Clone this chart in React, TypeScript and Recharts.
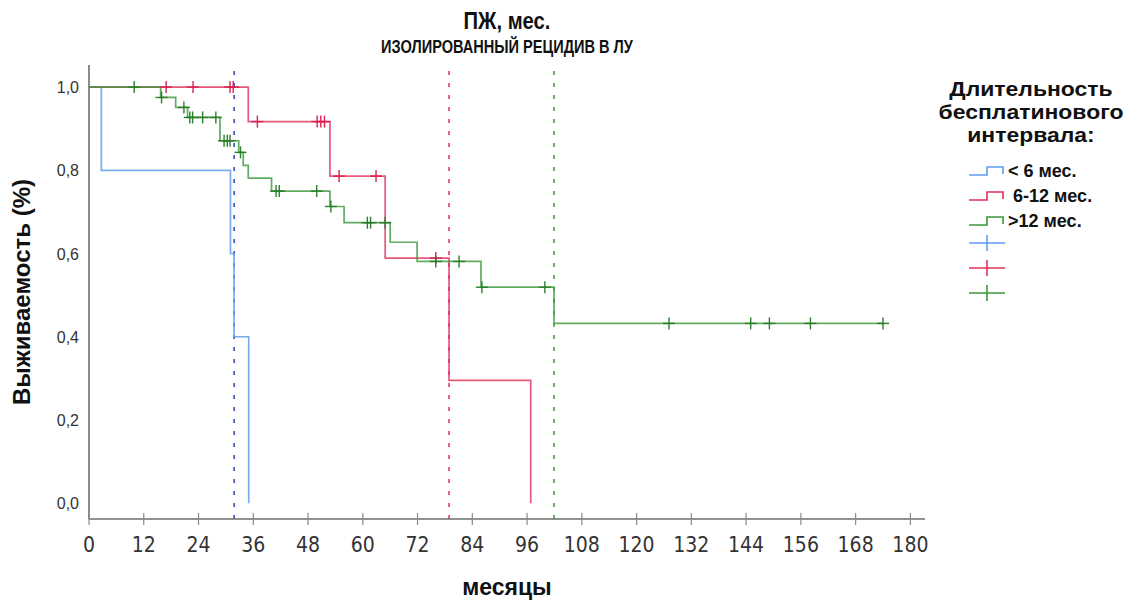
import React from 'react';
import { ComposedChart, Line, Scatter, XAxis, YAxis, ReferenceLine } from 'recharts';

// Axis ticks
const monthTicks = [0, 12, 24, 36, 48, 60, 72, 84, 96, 108, 120, 132, 144, 156, 168, 180];
const survivalTicks = [0, 0.2, 0.4, 0.6, 0.8, 1.0];

// Kaplan–Meier step curves (month, cumulative survival)
const lt6Steps = [
  { x: 0, y: 1 },
  { x: 2.7, y: 0.8 },
  { x: 31.0, y: 0.6 },
  { x: 31.8, y: 0.4 },
  { x: 35.0, y: 0 },
];

const m6to12Steps = [
  { x: 0, y: 1 },
  { x: 34.9, y: 0.917 },
  { x: 52.8, y: 0.786 },
  { x: 64.9, y: 0.589 },
  { x: 78.9, y: 0.295 },
  { x: 96.8, y: 0 },
];

const gt12Steps = [
  { x: 0, y: 1 },
  { x: 15.7, y: 0.975 },
  { x: 19.0, y: 0.951 },
  { x: 21.6, y: 0.927 },
  { x: 28.7, y: 0.871 },
  { x: 32.8, y: 0.843 },
  { x: 33.8, y: 0.812 },
  { x: 34.9, y: 0.781 },
  { x: 40.0, y: 0.75 },
  { x: 52.8, y: 0.713 },
  { x: 55.9, y: 0.674 },
  { x: 66.0, y: 0.627 },
  { x: 71.9, y: 0.581 },
  { x: 85.9, y: 0.519 },
  { x: 101.9, y: 0.432 },
  { x: 174.0, y: 0.432 },
];

// Censored observations (months)
const lt6Censored: number[] = [];
const m6to12Censored = [16.9, 22.8, 30.9, 31.6, 36.9, 50.0, 50.8, 51.6, 54.8, 62.9, 76.0];
const gt12Censored = [
  9.9, 15.9, 20.8, 22.1, 22.7, 24.9, 27.8, 29.6, 30.3, 30.9, 33.2, 41.0, 41.7, 49.9,
  53.0, 61.0, 61.7, 64.9, 76.0, 81.1, 86.1, 99.9, 127.1, 145.0, 149.1, 158.1, 174.0,
];

// Median survival (months)
const lt6Median = 31.8;
const m6to12Median = 78.9;
const gt12Median = 101.9;

const groupLabels = ['< 6 мес.', ' 6-12 мес.', '>12 мес.'];
const legendTitle = ['Длительность', 'бесплатинового', 'интервала:'];

const BLUE = '#5f9def';
const RED = '#e0305a';
const GREEN = '#3a973a';
const BLUE_DARK = '#2a46b0';
const RED_DARK = '#d9214f';
const GREEN_DARK = '#2a7f2a';

const SANS = "'Liberation Sans', Arial, sans-serif";
const NARROW = "'Liberation Sans Narrow', 'Arial Narrow', 'DejaVu Sans Condensed', sans-serif";

// Survival level of a step curve at time t
const survivalAt = (steps: { x: number; y: number }[], t: number) => {
  let v = steps[0].y;
  for (const s of steps) {
    if (s.x <= t) v = s.y;
  }
  return v;
};

const censorPoints = (steps: { x: number; y: number }[], times: number[]) =>
  times.map((t) => ({ x: t, y: survivalAt(steps, t) }));

const makePlus = (color: string) => (props: any) => {
  const { cx, cy } = props;
  if (cx == null || cy == null) return <g />;
  return (
    <g>
      <line x1={cx - 6} x2={cx + 6} y1={cy} y2={cy} stroke={color} strokeWidth={1.4} />
      <line x1={cx} x2={cx} y1={cy - 6} y2={cy + 6} stroke={color} strokeWidth={1.4} />
    </g>
  );
};

const MonthTick = (props: any) => {
  const { x, y, payload } = props;
  return (
    <g>
      <line x1={x} x2={x} y1={y - 6} y2={y + 6} stroke="#8a8a8a" strokeWidth={1.2} />
      <text x={x} y={y + 33} textAnchor="middle" fontFamily={NARROW} fontSize={21} fill="#333">
        {payload.value}
      </text>
    </g>
  );
};

const SurvivalTick = (props: any) => {
  const { x, y, payload } = props;
  return (
    <text x={x} y={y + 6} textAnchor="end" fontFamily={SANS} fontSize={16} fill="#333">
      {Number(payload.value).toFixed(1).replace('.', ',')}
    </text>
  );
};

const StepIcon = ({ cy, color }: { cy: number; color: string }) => (
  <polyline
    points={`969,${cy + 4} 987,${cy + 4} 987,${cy - 4} 1003,${cy - 4} 1003,${cy + 3}`}
    fill="none"
    stroke={color}
    strokeWidth={1.6}
  />
);

const PlusIcon = ({ cy, color }: { cy: number; color: string }) => (
  <g>
    <line x1={969} x2={1005} y1={cy} y2={cy} stroke={color} strokeWidth={1.6} />
    <line x1={987} x2={987} y1={cy - 8} y2={cy + 8} stroke={color} strokeWidth={1.6} />
  </g>
);

// Bold centred text with a horizontal scale factor
const ScaledText = ({ x, y, sx, size, children }: { x: number; y: number; sx: number; size: number; children: React.ReactNode }) => (
  <text
    transform={`translate(${x},${y}) scale(${sx},1)`}
    textAnchor="middle"
    fontFamily={SANS}
    fontWeight="bold"
    fontSize={size}
    fill="#111"
  >
    {children}
  </text>
);

export default function App() {
  const colors = [BLUE, RED, GREEN];
  return (
    <div style={{ position: 'absolute', left: 0, top: 0, width: 1148, height: 601, background: '#fff' }}>
      <ComposedChart
        width={1148}
        height={601}
        margin={{ top: 65, right: 223, bottom: 42, left: 29 }}
      >
        <XAxis
          type="number"
          dataKey="x"
          domain={[0, 183.2]}
          ticks={monthTicks}
          interval={0}
          allowDataOverflow
          tickLine={false}
          tickSize={0}
          tickMargin={0}
          height={40}
          axisLine={{ stroke: '#6e6e6e', strokeWidth: 1.6 }}
          tick={<MonthTick />}
        />
        <YAxis
          type="number"
          dataKey="y"
          domain={[-0.038, 1.053]}
          ticks={survivalTicks}
          interval={0}
          allowDataOverflow
          tickLine={false}
          tickSize={0}
          tickMargin={10}
          width={60}
          axisLine={{ stroke: '#6e6e6e', strokeWidth: 1.6 }}
          tick={<SurvivalTick />}
        />
        <ReferenceLine x={lt6Median} stroke={BLUE_DARK} strokeWidth={1.5} strokeDasharray="4 8" />
        <ReferenceLine x={m6to12Median} stroke={RED} strokeWidth={1.5} strokeDasharray="4 8" />
        <ReferenceLine x={gt12Median} stroke={GREEN} strokeWidth={1.5} strokeDasharray="4 8" />
        <Line
          data={lt6Steps}
          dataKey="y"
          type="stepAfter"
          stroke={BLUE}
          strokeWidth={1.7}
          strokeOpacity={0.85}
          dot={false}
          activeDot={false}
          isAnimationActive={false}
        />
        <Line
          data={m6to12Steps}
          dataKey="y"
          type="stepAfter"
          stroke={RED}
          strokeWidth={1.7}
          strokeOpacity={0.8}
          dot={false}
          activeDot={false}
          isAnimationActive={false}
        />
        <Line
          data={gt12Steps}
          dataKey="y"
          type="stepAfter"
          stroke={GREEN}
          strokeWidth={1.7}
          strokeOpacity={0.8}
          dot={false}
          activeDot={false}
          isAnimationActive={false}
        />
        <Scatter data={censorPoints(lt6Steps, lt6Censored)} shape={makePlus(BLUE_DARK)} isAnimationActive={false} />
        <Scatter data={censorPoints(m6to12Steps, m6to12Censored)} shape={makePlus(RED_DARK)} isAnimationActive={false} />
        <Scatter data={censorPoints(gt12Steps, gt12Censored)} shape={makePlus(GREEN_DARK)} isAnimationActive={false} />
      </ComposedChart>

      <svg
        width={1148}
        height={601}
        style={{ position: 'absolute', left: 0, top: 0, pointerEvents: 'none' }}
      >
        <ScaledText x={507} y={29} sx={0.88} size={23}>ПЖ, мес.</ScaledText>
        <ScaledText x={507} y={53} sx={0.81} size={18}>ИЗОЛИРОВАННЫЙ РЕЦИДИВ В ЛУ</ScaledText>
        <text
          transform="translate(30,292) rotate(-90)"
          textAnchor="middle"
          fontFamily={SANS}
          fontWeight="bold"
          fontSize={24}
          fill="#111"
        >
          Выживаемость (%)
        </text>
        <text x={507} y={595} textAnchor="middle" fontFamily={SANS} fontWeight="bold" fontSize={23} fill="#111">
          месяцы
        </text>

        {legendTitle.map((line, i) => (
          <ScaledText key={line} x={1031} y={96 + i * 23} sx={1.12} size={20.5}>
            {line}
          </ScaledText>
        ))}
        {groupLabels.map((label, i) => (
          <g key={label}>
            <StepIcon cy={171 + i * 25} color={colors[i]} />
            <text
              x={1008}
              y={177 + i * 25}
              fontFamily={SANS}
              fontWeight="bold"
              fontSize={18}
              fill="#111"
              style={{ whiteSpace: 'pre' }}
            >
              {label}
            </text>
          </g>
        ))}
        {colors.map((c, i) => (
          <PlusIcon key={c} cy={243 + i * 25} color={c} />
        ))}
      </svg>
    </div>
  );
}
